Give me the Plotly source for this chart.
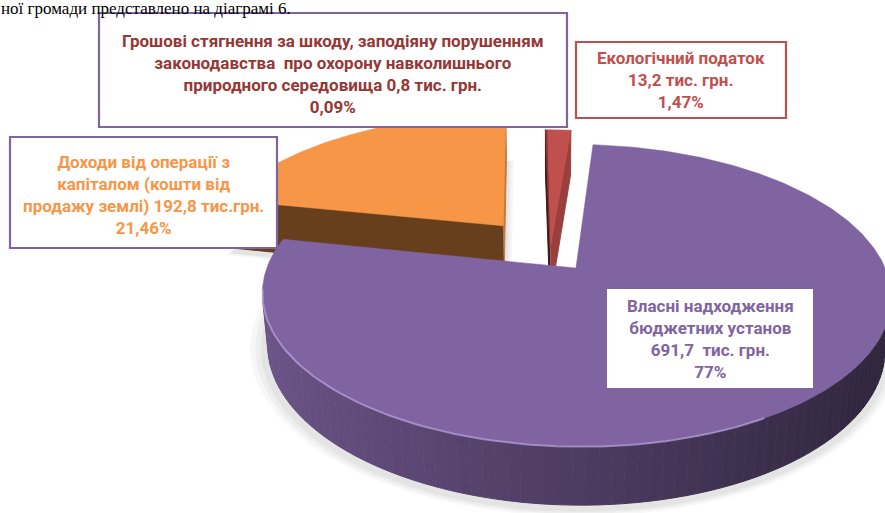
import numpy as np
import plotly.graph_objects as go

# ---------------- data ----------------
categories = [
    "Грошові стягнення за шкоду, заподіяну порушенням законодавства про охорону навколишнього природного середовища",
    "Екологічний податок",
    "Власні надходження бюджетних установ",
    "Доходи від операції з капіталом (кошти від продажу землі)",
]
values = [0.8, 13.2, 691.7, 192.8]  # тис. грн.
value_labels = ["0,8 тис. грн.", "13,2 тис. грн.", "691,7  тис. грн.", "192,8 тис.грн."]
percent_labels = ["0,09%", "1,47%", "77%", "21,46%"]
label_lines = [
    ["Грошові стягнення за шкоду, заподіяну порушенням",
     "законодавства  про охорону навколишнього",
     "природного середовища " + value_labels[0]],
    ["Екологічний податок", value_labels[1]],
    ["Власні надходження", "бюджетних установ", value_labels[2]],
    ["Доходи від операції з", "капіталом (кошти від",
     "продажу землі) " + value_labels[3]],
]
caption_text = "ної громади представлено на діаграмі 6."

# ---------------- styles ----------------
top_colors = ["#953735", "#C0504D", "#8064A2", "#F79646"]
text_colors = ["#953735", "#C0504D", "#8064A2", "#F79646"]
border_colors = ["#8064A2", "#C0504D", "rgba(0,0,0,0)", "#8064A2"]
border_widths = [2.2, 2.2, 0, 2.2]
pulls = [0.03, 0.03, 0.14, 0.25]
# label boxes (x0, y0, x1, y1) and text centres, pixels
label_boxes = [(99, 13, 567, 127), (576, 42, 786, 118), (607, 289, 813, 388), (10, 137, 277, 248)]
label_text_pos = [(333, 73.5), (681, 80), (710, 339), (143.5, 194.5)]

W, H = 885, 513
CX, CY = 550, 252
R = 303.0
ALPHA = np.radians(27.6)
DIST = 1507.0
THICK = 58.0
THETA0 = np.radians(-1.0)
sa, ca = np.sin(ALPHA), np.cos(ALPHA)
CAM = np.array([0.0, -DIST * ca, DIST * sa])


def project(X, Y, Hh):
    X = np.asarray(X, float); Y = np.asarray(Y, float); Hh = np.asarray(Hh, float) * np.ones_like(X)
    sy = Y * sa + Hh * ca
    depth = Y * ca - Hh * sa
    s = DIST / (DIST + depth)
    return CX + s * X, CY - s * sy, depth


def shade(hexcol, f):
    h = hexcol.lstrip("#")
    r, g, b = (int(h[i:i + 2], 16) for i in (0, 2, 4))
    return "rgb(%d,%d,%d)" % (min(255, r * f), min(255, g * f), min(255, b * f))


vals = np.array(values, float)
fr = vals / vals.sum()
ends = THETA0 + 2 * np.pi * np.cumsum(fr)
starts = ends - 2 * np.pi * fr

walls = []   # (depth, xs, ys, color)
tops = []
shadows = []
highlight = None
for i in range(len(vals)):
    a, b = starts[i], ends[i]
    m = 0.5 * (a + b)
    ox, oy = pulls[i] * R * np.sin(m), pulls[i] * R * np.cos(m)
    n = max(3, int(np.degrees(b - a) / 1.0) + 2)
    t = np.linspace(a, b, n)
    rx, ry = ox + R * np.sin(t), oy + R * np.cos(t)
    # top face
    X = np.concatenate([[ox], rx, [ox]]); Y = np.concatenate([[oy], ry, [oy]])
    px, py, dp = project(X, Y, 0)
    tops.append((dp.mean(), px, py, top_colors[i]))
    # shadow (base)
    bx, by, _ = project(X, Y, -THICK)
    shadows.append((bx, by))
    # outer wall segments
    nseg = max(1, int(np.degrees(b - a) / 2.0))
    ts = np.linspace(a, b, nseg + 1)
    for k in range(nseg):
        t1, t2 = ts[k], ts[k + 1]
        tm = 0.5 * (t1 + t2)
        P = np.array([ox + R * np.sin(tm), oy + R * np.cos(tm), -THICK / 2])
        nrm = np.array([np.sin(tm), np.cos(tm), 0.0])
        if np.dot(nrm, CAM - P) <= 0:
            continue
        tt = np.linspace(t1, t2, 4)
        wx = np.concatenate([ox + R * np.sin(tt), ox + R * np.sin(tt[::-1])])
        wy = np.concatenate([oy + R * np.cos(tt), oy + R * np.cos(tt[::-1])])
        wh = np.concatenate([np.zeros(4), -THICK * np.ones(4)])
        px, py, dp = project(wx, wy, wh)
        f = 0.6 - 0.25 * np.sin(tm)
        walls.append((dp.mean(), px, py, shade(top_colors[i], f)))
    # radial faces
    for ang, nang, f in ((a, a - np.pi / 2, 0.42), (b, b + np.pi / 2, 0.8)):
        ex, ey = ox + R * np.sin(ang), oy + R * np.cos(ang)
        P = np.array([(ox + ex) / 2, (oy + ey) / 2, -THICK / 2])
        nrm = np.array([np.sin(nang), np.cos(nang), 0.0])
        if np.dot(nrm, CAM - P) <= 0:
            continue
        fx = [ox, ex, ex, ox]; fy = [oy, ey, ey, oy]; fh = [0, 0, -THICK, -THICK]
        px, py, dp = project(fx, fy, fh)
        walls.append((dp.mean(), px, py, shade(top_colors[i], f)))
    if i == 2:
        th = np.linspace(max(a, np.radians(150)), min(b, np.radians(262)), 80)
        hx, hy, _ = project(ox + R * np.sin(th), oy + R * np.cos(th), 0)
        highlight = (hx, hy)

fig = go.Figure()

# soft shadow
for sc, op in ((1.05, 0.03), (1.035, 0.035), (1.02, 0.04)):
    for bx, by in shadows:
        mx, my = bx.mean(), by.mean()
        fig.add_trace(go.Scatter(x=mx + sc * (bx - mx), y=my + sc * (by - my) + 4, mode="lines",
                                 fill="toself", fillcolor="rgba(0,0,0,%.3f)" % op,
                                 line=dict(width=0), hoverinfo="skip"))

for dp, px, py, col in sorted(walls, key=lambda w: -w[0]):
    fig.add_trace(go.Scatter(x=px, y=py, mode="lines", fill="toself", fillcolor=col,
                             line=dict(color=col, width=1), hoverinfo="skip"))
for dp, px, py, col in sorted(tops, key=lambda w: -w[0]):
    fig.add_trace(go.Scatter(x=px, y=py, mode="lines", fill="toself", fillcolor=col,
                             line=dict(color=col, width=0.5), hoverinfo="skip"))
if highlight is not None:
    fig.add_trace(go.Scatter(x=highlight[0], y=highlight[1], mode="lines",
                             line=dict(color="rgba(200,180,240,0.55)", width=2), hoverinfo="skip"))

shapes = []
annotations = [dict(
    x=0, y=1, xref="paper", yref="paper", xshift=-1, yshift=3, showarrow=False, text=caption_text,
    xanchor="left", yanchor="top", align="left",
    font=dict(family="Liberation Serif, Times New Roman, serif", size=17, color="black"),
)]
for i in range(len(vals)):
    x0, y0, x1, y1 = label_boxes[i]
    shapes.append(dict(type="rect", xref="x", yref="y", x0=x0, y0=y0, x1=x1, y1=y1,
                       fillcolor="white", layer="above",
                       line=dict(color=border_colors[i], width=border_widths[i])))
    tx, ty = label_text_pos[i]
    txt = "<br>".join(label_lines[i] + [percent_labels[i]])
    annotations.append(dict(
        x=tx, y=ty, xref="x", yref="y", showarrow=False, text=txt,
        xanchor="center", yanchor="middle", align="center",
        font=dict(family="Roboto, Arial, sans-serif", size=17, color=text_colors[i], weight="bold"),
    ))

fig.update_layout(
    width=W, height=H, margin=dict(l=0, r=0, t=0, b=0),
    paper_bgcolor="white", plot_bgcolor="white", showlegend=False, hovermode=False,
    xaxis=dict(range=[0, W], visible=False, fixedrange=True),
    yaxis=dict(range=[H, 0], visible=False, fixedrange=True),
    shapes=shapes, annotations=annotations,
)
fig.write_html("out.html", config={"displayModeBar": False},
               post_script="document.body.style.margin='0';document.body.style.overflow='hidden';")
